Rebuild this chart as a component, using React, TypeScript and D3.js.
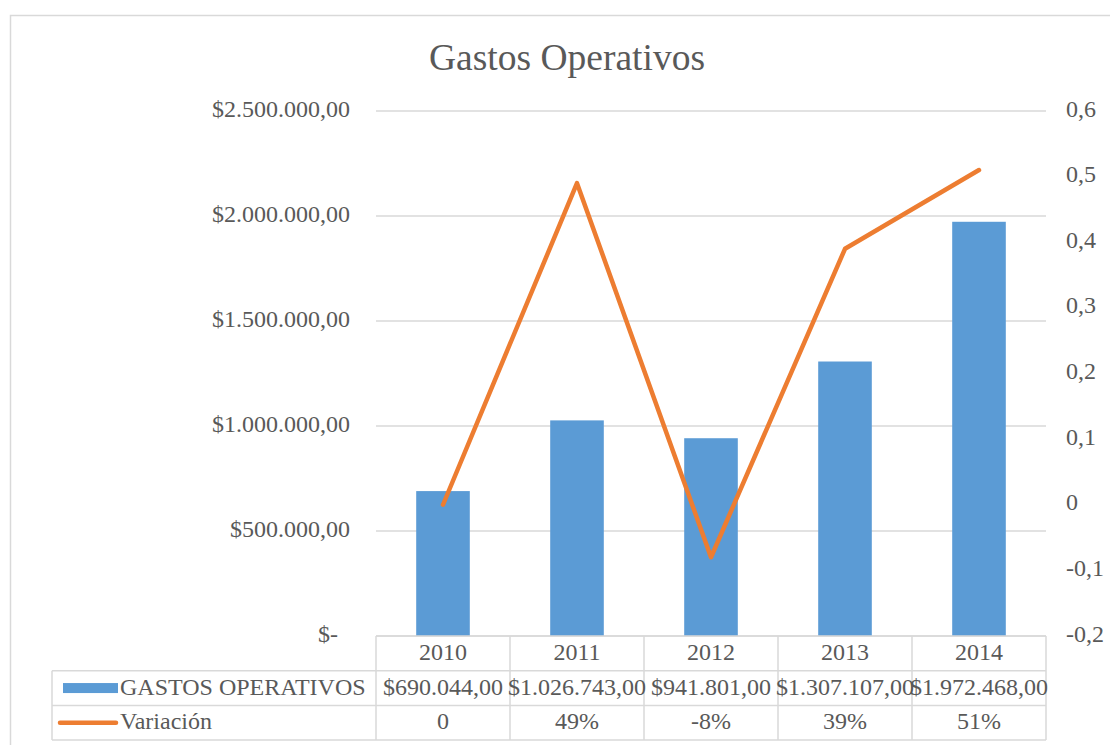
import React from 'react';
import * as d3 from 'd3';

const years = ['2010', '2011', '2012', '2013', '2014'];
const gastos = [690044, 1026743, 941801, 1307107, 1972468];
const variacion = [0, 0.49, -0.08, 0.39, 0.51];
const gastosLabels = ['$690.044,00', '$1.026.743,00', '$941.801,00', '$1.307.107,00', '$1.972.468,00'];
const variacionLabels = ['0', '49%', '-8%', '39%', '51%'];
const leftTicks = [0, 500000, 1000000, 1500000, 2000000, 2500000];
const leftTickLabels = ['$-', '$500.000,00', '$1.000.000,00', '$1.500.000,00', '$2.000.000,00', '$2.500.000,00'];
const rightTicks = [-0.2, -0.1, 0, 0.1, 0.2, 0.3, 0.4, 0.5, 0.6];
const seriesNames = ['GASTOS OPERATIVOS', 'Variación'];
const title = 'Gastos Operativos';

const FONT = '"Liberation Serif", "Times New Roman", serif';
const TXT = '#595959';
const GRID = '#D9D9D9';
const BLUE = '#5B9BD5';
const ORANGE = '#ED7D31';

export default function App() {
  const plotL = 376, plotR = 1046, plotT = 111, plotB = 636;
  const x = d3.scaleBand<string>().domain(years).range([plotL, plotR]).paddingInner(0.6).paddingOuter(0.3);
  const col = d3.scaleBand<string>().domain(years).range([plotL, plotR]);
  const yL = d3.scaleLinear().domain([0, 2500000]).range([plotB, plotT]);
  const yR = d3.scaleLinear().domain([-0.2, 0.6]).range([plotB, plotT]);
  const line = d3.line<number>()
    .x((_, i) => (col(years[i]) as number) + col.bandwidth() / 2)
    .y((d) => yR(d));
  const fmtR = (v: number) => (Math.abs(v) < 1e-9 ? '0' : v.toFixed(1).replace('.', ','));

  const tableL = 52;
  const rowH = 34.7;
  const rows = [plotB, plotB + rowH, plotB + 2 * rowH, plotB + 3 * rowH];
  const fs = 24;

  return (
    <svg width={1110} height={745} style={{ position: 'absolute', left: 0, top: 0, fontFamily: FONT }}>
      <rect x={0} y={0} width={1110} height={745} fill="#fff" />
      <rect x={10.5} y={15.5} width={1200} height={800} fill="#fff" stroke={GRID} strokeWidth={1.5} />
      <text x={567} y={61} textAnchor="middle" dominantBaseline="middle" fontSize={37.5} fill={TXT}>{title}</text>

      {leftTicks.map((t) => (
        <line key={'g' + t} x1={plotL} x2={plotR} y1={yL(t)} y2={yL(t)} stroke={GRID} strokeWidth={1.5} />
      ))}
      {leftTicks.map((t, i) => (
        <text key={'l' + t} x={t === 0 ? 338 : 350} y={yL(t)} textAnchor="end" dominantBaseline="middle" fontSize={fs} fill={TXT}>{leftTickLabels[i]}</text>
      ))}
      {rightTicks.map((t) => (
        <text key={'r' + t} x={1066} y={yR(t)} textAnchor="start" dominantBaseline="middle" fontSize={fs} fill={TXT}>{fmtR(t)}</text>
      ))}

      {gastos.map((v, i) => (
        <rect key={'b' + i} x={x(years[i])} y={yL(v)} width={x.bandwidth()} height={yL(0) - yL(v)} fill={BLUE} />
      ))}
      <path d={line(variacion) || ''} fill="none" stroke={ORANGE} strokeWidth={4.5} strokeLinecap="round" strokeLinejoin="round" />

      <g stroke={GRID} strokeWidth={1.5}>
        <line x1={plotL} x2={plotR} y1={rows[0]} y2={rows[0]} />
        <line x1={tableL} x2={plotR} y1={rows[1]} y2={rows[1]} />
        <line x1={tableL} x2={plotR} y1={rows[2]} y2={rows[2]} />
        <line x1={tableL} x2={plotR} y1={rows[3]} y2={rows[3]} />
        <line x1={tableL} x2={tableL} y1={rows[1]} y2={rows[3]} />
        {years.map((yr) => (
          <line key={'v' + yr} x1={col(yr)} x2={col(yr)} y1={rows[0]} y2={rows[3]} />
        ))}
        <line x1={plotR} x2={plotR} y1={rows[0]} y2={rows[3]} />
      </g>
      {years.map((yr) => (
        <text key={'c' + yr} x={(col(yr) as number) + col.bandwidth() / 2} y={(rows[0] + rows[1]) / 2 + 1} textAnchor="middle" dominantBaseline="middle" fontSize={fs} fill={TXT}>{yr}</text>
      ))}
      {gastosLabels.map((s, i) => (
        <text key={'gl' + i} x={(col(years[i]) as number) + col.bandwidth() / 2} y={(rows[1] + rows[2]) / 2 + 1} textAnchor="middle" dominantBaseline="middle" fontSize={fs} fill={TXT}>{s}</text>
      ))}
      {variacionLabels.map((s, i) => (
        <text key={'vl' + i} x={(col(years[i]) as number) + col.bandwidth() / 2} y={(rows[2] + rows[3]) / 2 + 1} textAnchor="middle" dominantBaseline="middle" fontSize={fs} fill={TXT}>{s}</text>
      ))}
      <rect x={63} y={(rows[1] + rows[2]) / 2 - 5} width={55} height={10} fill={BLUE} />
      <text x={120} y={(rows[1] + rows[2]) / 2 + 1} dominantBaseline="middle" fontSize={fs} fill={TXT}>{seriesNames[0]}</text>
      <line x1={60} x2={116} y1={(rows[2] + rows[3]) / 2} y2={(rows[2] + rows[3]) / 2} stroke={ORANGE} strokeWidth={4.5} strokeLinecap="round" />
      <text x={120} y={(rows[2] + rows[3]) / 2 + 1} dominantBaseline="middle" fontSize={fs} fill={TXT}>{seriesNames[1]}</text>
    </svg>
  );
}
